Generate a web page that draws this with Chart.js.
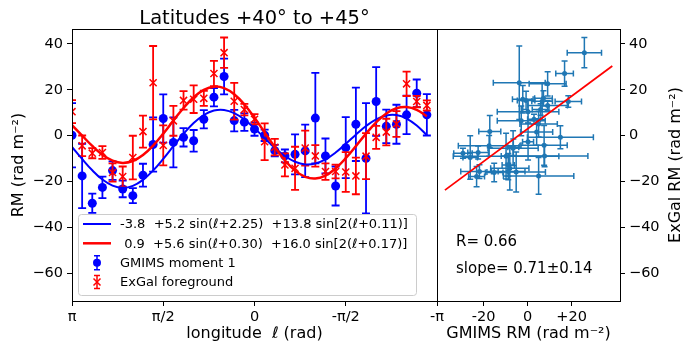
<!DOCTYPE html>
<html>
<head>
<meta charset="utf-8">
<script src="https://cdn.jsdelivr.net/npm/chart.js@4.4.1/dist/chart.umd.min.js"></script>
<style>
  body { margin: 0; background: #fff; }
  #wrap { position: relative; width: 692px; height: 355px; }
  #wrap canvas { position: absolute; top: 0; }
</style>
</head>
<body>
<div id="wrap">
  <canvas id="lonChart" width="470" height="355" style="left:0"></canvas>
  <canvas id="corrChart" width="312" height="355" style="left:380px"></canvas>
</div>
<script>
// longitude bins (deg) for latitudes +40 to +45
const longitudeDeg = [180, 170, 160, 150, 140, 130, 120, 110, 100, 90, 80, 70, 60, 50, 40, 30, 20, 10,
                      0, -10, -20, -30, -40, -50, -60, -70, -80, -90, -100, -110, -120, -130, -140, -150, -160, -170];

// GMIMS moment 1 RM and errors (rad m^-2)
const gmimsRM  = [0.2, -17.5, -29.4, -22.5, -15.2, -23.2, -26.1, -17.2, -3.8, 7.5, -2.9, -0.7, -2.2, 7.2, 16.8, 25.8, 6.6, 5.9,
                  2.9, 0.2, -6.5, -8.8, -8.1, -6.6, 7.7, -8.8, -21.9, -5.2, 5.0, -9.8, 14.9, 4.1, 5.0, 9.1, 18.5, 9.1];
const gmimsErr = [14, 14, 4.2, 4.7, 4, 3.6, 3.3, 5, 11.8, 10.5, 10.9, 4, 4.7, 4, 4, 7.8, 4.7, 3.8,
                  2.9, 2.5, 2.5, 2.8, 8.7, 11.4, 19.7, 7.6, 8.5, 13.3, 16, 24, 15, 7.3, 8.5, 8.4, 6, 9];

// ExGal foreground RM and errors (rad m^-2)
const exgalRM  = [10.5, -4.4, -7.6, -7.3, -16, -17.8, -9.5, 1.8, 23.1, -4.2, 6.5, 15.4, 15.9, 16.3, 27.1, 36.2, 15.0, 11.4,
                  7.2, -2.6, -5.0, -12.7, -14.2, -5.4, -8.8, -15.6, -15.6, -15.8, -17.5, -8.9, -0.7, 1.6, 5.1, 22.6, 14.9, 13.2];
const exgalErr = [5, 4.5, 2.2, 2.8, 4, 4.4, 9.5, 7, 16, 8.7, 6.5, 4, 6, 3.3, 5.5, 6.6, 8, 2.5,
                  2.2, 8, 3.6, 5, 9.4, 7.6, 4.7, 3.6, 3, 8.7, 8, 10, 5, 5.8, 5.6, 5.3, 2.5, 2.2];

// fitted curves read at the bin longitudes
const gmimsFit = [-4.83, -10.12, -15.07, -19.09, -21.74, -22.69, -21.82, -19.21, -15.16, -10.08, -4.54, 0.86, 5.54, 9.04, 10.99, 11.24, 9.84, 7.06,
                  3.25, -1.02, -5.23, -8.81, -11.34, -12.49, -12.12, -10.31, -7.32, -3.54, 0.48, 4.24, 7.16, 8.84, 8.99, 7.50, 4.48, 0.22];
const exgalFit = [4.59, 0.05, -4.44, -8.26, -10.86, -11.85, -11.02, -8.42, -4.29, 0.91, 6.61, 12.10, 16.76, 19.99, 21.39, 20.74, 18.06, 13.63,
                  7.89, 1.45, -4.98, -10.74, -15.20, -17.91, -18.64, -17.34, -14.25, -9.79, -4.51, 0.92, 5.84, 9.67, 11.97, 12.52, 11.30, 8.51];

// regression line in the correlation panel
const fitLineX = [-37.6, 38.5];
const fitLineY = [-23.7, 30.4];

const lonTickValues = [Math.PI, Math.PI / 2, 0, -Math.PI / 2, -Math.PI];
const lonTickLabels = ['π', 'π/2', '0', '-π/2', '-π'];
const rmTicks = [40, 20, 0, -20, -40, -60];
const corrTicks = [-20, 0, 20];
const corrTickLabels = ['-20', '0', '+20'];

const legendLabels = ['-3.8  +5.2 sin(ℓ+2.25)  +13.8 sin[2(ℓ+0.11)]',
                      ' 0.9  +5.6 sin(ℓ+0.30)  +16.0 sin[2(ℓ+0.17)]',
                      'GMIMS moment 1',
                      'ExGal foreground'];
const statsText = ['R= 0.66', 'slope= 0.71±0.14'];

Chart.defaults.font.family = 'DejaVu Sans';
Chart.defaults.color = '#000';

const FONT = 'DejaVu Sans';
const minus = v => String(v).replace('-', '\u2212');
const lonPoints = vals => vals.map((v, i) => ({ x: longitudeDeg[i] * Math.PI / 180, y: v }));

// error bars drawn just before each marker dataset
const errorBars = {
  id: 'errorBars',
  beforeDatasetDraw(chart, args) {
    const ds = chart.data.datasets[args.index];
    if (!ds.yErr && !ds.xErr) return;
    const { ctx, chartArea: a, scales: { x, y } } = chart;
    const cap = ds.capSize;
    ctx.save();
    ctx.beginPath();
    ctx.rect(a.left, a.top, a.right - a.left, a.bottom - a.top);
    ctx.clip();
    ctx.strokeStyle = ds.errColor;
    ctx.lineWidth = ds.errWidth;
    ds.data.forEach((p, i) => {
      const px = x.getPixelForValue(p.x), py = y.getPixelForValue(p.y);
      ctx.beginPath();
      if (ds.xErr) {
        const l = x.getPixelForValue(p.x - ds.xErr[i]), r = x.getPixelForValue(p.x + ds.xErr[i]);
        ctx.moveTo(l, py); ctx.lineTo(r, py);
        ctx.moveTo(l, py - cap); ctx.lineTo(l, py + cap);
        ctx.moveTo(r, py - cap); ctx.lineTo(r, py + cap);
      }
      if (ds.yErr) {
        const t = y.getPixelForValue(p.y + ds.yErr[i]), b = y.getPixelForValue(p.y - ds.yErr[i]);
        ctx.moveTo(px, t); ctx.lineTo(px, b);
        ctx.moveTo(px - cap, t); ctx.lineTo(px + cap, t);
        ctx.moveTo(px - cap, b); ctx.lineTo(px + cap, b);
      }
      ctx.stroke();
    });
    ctx.restore();
  }
};

// axes frame
const frame = {
  id: 'frame',
  afterDatasetsDraw(chart) {
    const { ctx, chartArea: a } = chart;
    ctx.save();
    ctx.strokeStyle = '#000';
    ctx.lineWidth = 1;
    ctx.strokeRect(a.left + 0.5, a.top + 0.5, a.right - a.left, a.bottom - a.top);
    ctx.restore();
  }
};

function drawErrHandle(ctx, x, y, color, half, marker) {
  ctx.strokeStyle = color;
  ctx.fillStyle = color;
  ctx.lineWidth = 1.5;
  ctx.beginPath();
  ctx.moveTo(x, y - half); ctx.lineTo(x, y + half);
  ctx.moveTo(x - 3, y - half); ctx.lineTo(x + 3, y - half);
  ctx.moveTo(x - 3, y + half); ctx.lineTo(x + 3, y + half);
  ctx.stroke();
  ctx.beginPath();
  if (marker === 'circle') {
    ctx.arc(x, y, 4, 0, Math.PI * 2);
    ctx.fill();
  } else {
    ctx.moveTo(x - 3.5, y - 3.5); ctx.lineTo(x + 3.5, y + 3.5);
    ctx.moveTo(x - 3.5, y + 3.5); ctx.lineTo(x + 3.5, y - 3.5);
    ctx.stroke();
  }
}

// title and legend of the longitude panel
const lonDecor = {
  id: 'lonDecor',
  afterDraw(chart) {
    const { ctx, chartArea: a } = chart;
    ctx.save();
    ctx.fillStyle = '#000';
    ctx.font = '19.5px "' + FONT + '"';
    ctx.textAlign = 'center';
    ctx.textBaseline = 'alphabetic';
    ctx.fillText('Latitudes +40° to +45°', (a.left + a.right) / 2, 24);

    // legend box
    ctx.beginPath();
    ctx.roundRect(78.5, 214.5, 338, 81, 3);
    ctx.fillStyle = 'rgba(255,255,255,0.8)';
    ctx.fill();
    ctx.strokeStyle = '#cccccc';
    ctx.lineWidth = 1;
    ctx.stroke();

    const rows = [224, 243.3, 262.7, 282];
    ctx.lineWidth = 2;
    ctx.strokeStyle = '#0000ff';
    ctx.beginPath(); ctx.moveTo(83, rows[0]); ctx.lineTo(111, rows[0]); ctx.stroke();
    ctx.lineWidth = 2.5;
    ctx.strokeStyle = '#ff0000';
    ctx.beginPath(); ctx.moveTo(83, rows[1]); ctx.lineTo(111, rows[1]); ctx.stroke();
    drawErrHandle(ctx, 97, rows[2], '#0000ff', 7, 'circle');
    drawErrHandle(ctx, 97, rows[3], '#ff0000', 6.5, 'x');

    ctx.fillStyle = '#000';
    ctx.font = '13px "' + FONT + '"';
    ctx.textAlign = 'left';
    ctx.textBaseline = 'middle';
    legendLabels.forEach((t, i) => ctx.fillText(t, 120, rows[i] + 1));
    ctx.restore();
  }
};

// stats text and right-hand y label of the correlation panel
const corrDecor = {
  id: 'corrDecor',
  afterDraw(chart) {
    const { ctx, chartArea: a } = chart;
    ctx.save();
    ctx.fillStyle = '#000';
    ctx.font = '15px "' + FONT + '"';
    ctx.textAlign = 'left';
    ctx.textBaseline = 'middle';
    ctx.fillText(statsText[0], a.left + 19, 242);
    ctx.fillText(statsText[1], a.left + 19, 269);

    ctx.font = '16px "' + FONT + '"';
    ctx.textAlign = 'center';
    ctx.translate(296, (a.top + a.bottom) / 2);
    ctx.rotate(-Math.PI / 2);
    ctx.fillText('ExGal RM (rad m⁻²)', 0, 0);
    ctx.restore();
  }
};

const tickFont = { size: 14.5 };
const tickGrid = { drawOnChartArea: false, tickLength: 5, color: '#000', lineWidth: 1 };

const lonChart = new Chart(document.getElementById('lonChart'), {
  type: 'scatter',
  data: {
    datasets: [
      {
        label: 'ExGal fit',
        data: lonPoints(exgalFit),
        showLine: true,
        borderColor: '#ff0000',
        borderWidth: 2.5,
        pointRadius: 0,
        tension: 0.4,
        order: 0
      },
      {
        label: 'GMIMS fit',
        data: lonPoints(gmimsFit),
        showLine: true,
        borderColor: '#0000ff',
        borderWidth: 2,
        pointRadius: 0,
        tension: 0.4,
        order: 1
      },
      {
        label: 'ExGal foreground',
        data: lonPoints(exgalRM),
        yErr: exgalErr,
        errColor: '#ff0000',
        errWidth: 1.8,
        capSize: 4,
        pointStyle: 'crossRot',
        pointRadius: 5,
        borderColor: '#ff0000',
        borderWidth: 1.5,
        order: 2
      },
      {
        label: 'GMIMS moment 1',
        data: lonPoints(gmimsRM),
        yErr: gmimsErr,
        errColor: '#0000ff',
        errWidth: 1.8,
        capSize: 4,
        pointStyle: 'circle',
        pointRadius: 4.5,
        backgroundColor: '#0000ff',
        borderColor: '#0000ff',
        borderWidth: 0,
        order: 3
      }
    ]
  },
  options: {
    responsive: false,
    animation: false,
    layout: { padding: { left: 0, right: 33, top: 29, bottom: 0 }, autoPadding: false },
    plugins: { legend: { display: false }, tooltip: { enabled: false } },
    scales: {
      x: {
        type: 'linear',
        min: -Math.PI,
        max: Math.PI,
        reverse: true,
        afterBuildTicks: s => { s.ticks = lonTickValues.map(v => ({ value: v })); },
        afterFit: s => { s.height = 54; },
        ticks: { callback: (v, i) => lonTickLabels[i], font: tickFont, padding: 3, maxRotation: 0, autoSkip: false },
        grid: tickGrid,
        border: { display: false },
        title: { display: true, text: 'longitude  ℓ (rad)', font: { size: 16 }, padding: { top: 0, bottom: 12 } }
      },
      y: {
        min: -72,
        max: 46.5,
        afterBuildTicks: s => { s.ticks = rmTicks.map(v => ({ value: v })); },
        afterFit: s => { s.width = 72; },
        ticks: { callback: v => minus(v), font: tickFont, padding: 4 },
        grid: tickGrid,
        border: { display: false },
        title: { display: true, text: 'RM (rad m⁻²)', font: { size: 16 }, padding: { top: 9, bottom: 0 } }
      }
    }
  },
  plugins: [errorBars, frame, lonDecor]
});

const corrChart = new Chart(document.getElementById('corrChart'), {
  type: 'scatter',
  data: {
    datasets: [
      {
        label: 'fit',
        data: fitLineX.map((x, i) => ({ x: x, y: fitLineY[i] })),
        showLine: true,
        borderColor: '#ff0000',
        borderWidth: 1.8,
        pointRadius: 0,
        order: 0
      },
      {
        label: 'GMIMS vs ExGal',
        data: gmimsRM.map((v, i) => ({ x: v, y: exgalRM[i] })),
        xErr: gmimsErr,
        yErr: exgalErr,
        errColor: '#1f77b4',
        errWidth: 1.5,
        capSize: 3,
        pointStyle: 'circle',
        pointRadius: 2.5,
        backgroundColor: '#1f77b4',
        borderWidth: 0,
        order: 1
      }
    ]
  },
  options: {
    responsive: false,
    animation: false,
    layout: { padding: { left: 57, right: 0, top: 29, bottom: 0 }, autoPadding: false },
    plugins: { legend: { display: false }, tooltip: { enabled: false } },
    scales: {
      x: {
        type: 'linear',
        min: -41.2,
        max: 42,
        afterBuildTicks: s => { s.ticks = corrTicks.map(v => ({ value: v })); },
        afterFit: s => { s.height = 54; },
        ticks: { callback: (v, i) => corrTickLabels[i], font: tickFont, padding: 3, maxRotation: 0, autoSkip: false },
        grid: tickGrid,
        border: { display: false },
        title: { display: true, text: 'GMIMS RM (rad m⁻²)', font: { size: 16 }, padding: { top: 0, bottom: 12 } }
      },
      y: {
        position: 'right',
        min: -72,
        max: 46.5,
        afterBuildTicks: s => { s.ticks = rmTicks.map(v => ({ value: v })); },
        afterFit: s => { s.width = 72; },
        ticks: { callback: v => minus(v), font: tickFont, padding: 4 },
        grid: tickGrid,
        border: { display: false }
      }
    }
  },
  plugins: [errorBars, frame, corrDecor]
});
</script>
</body>
</html>
